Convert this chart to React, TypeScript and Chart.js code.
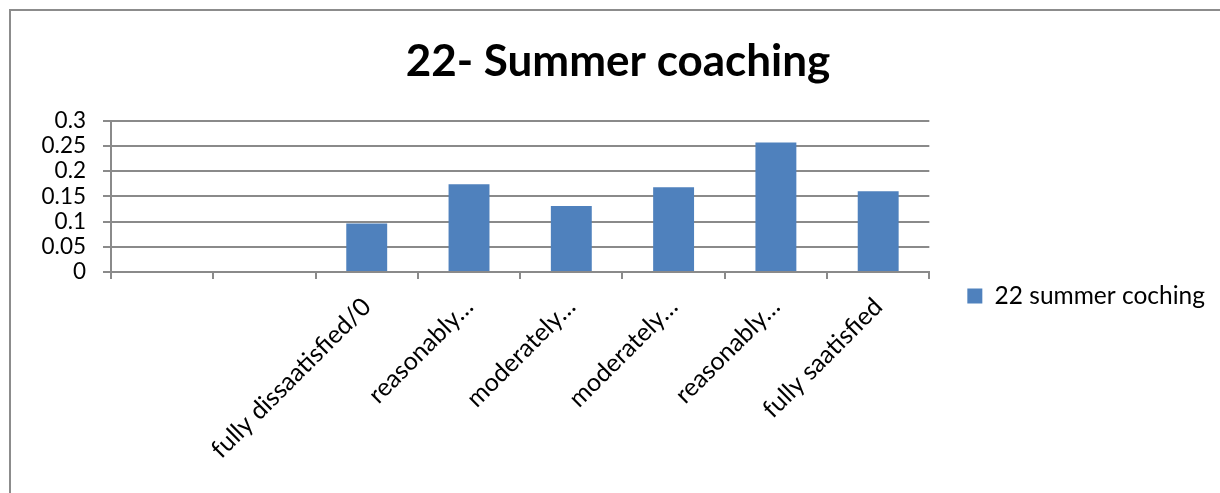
import React, { useEffect, useRef } from "react";
import { Chart, registerables } from "chart.js";

Chart.register(...registerables);

const categories: string[] = [
  "",
  "",
  "fully dissaatisfied/0",
  "reasonably…",
  "moderately…",
  "moderately…",
  "reasonably…",
  "fully saatisfied",
];
const seriesName = "22 summer coching";
const seriesValues: (number | null)[] = [null, null, 0.096, 0.174, 0.131, 0.168, 0.257, 0.16];
const yTicks: number[] = [0, 0.05, 0.1, 0.15, 0.2, 0.25, 0.3];
const titleText = "22- Summer coaching";

const FONT = "Lato, 'Open Sans', sans-serif";
const GRID = "#8a8a8a";
const BAR = "#4f81bd";

export default function App() {
  const ref = useRef<HTMLCanvasElement | null>(null);

  useEffect(() => {
    if (!ref.current) return;
    const chart = new Chart(ref.current, {
      type: "bar",
      data: {
        labels: categories,
        datasets: [
          {
            label: seriesName,
            data: seriesValues,
            backgroundColor: BAR,
            borderWidth: 0,
            barPercentage: 0.4,
            categoryPercentage: 1,
          },
        ],
      },
      options: {
        responsive: false,
        animation: false,
        devicePixelRatio: 1,
        layout: { padding: { left: 21, right: 5, top: 0, bottom: 0 } },
        plugins: {
          tooltip: { enabled: false },
          title: {
            display: true,
            text: titleText,
            color: "#000",
            font: { family: FONT, size: 44, weight: "bold" },
            padding: { top: 35, bottom: 33 },
          },
          legend: {
            display: true,
            position: "right",
            title: {
              display: true,
              text: "",
              font: { family: FONT, size: 10 },
              padding: { top: 87, bottom: 0 },
            },
            labels: {
              boxWidth: 15,
              boxHeight: 15,
              padding: 38,
              color: "#000",
              font: { family: FONT, size: 24.5 },
            },
          },
        },
        scales: {
          x: {
            afterFit: (scale: any) => {
              scale.height = 221;
            },
            grid: {
              display: true,
              drawOnChartArea: false,
              drawTicks: true,
              tickLength: 7,
              color: GRID,
              lineWidth: 2,
              offset: true,
            },
            border: { display: true, color: GRID, width: 2 },
            ticks: {
              autoSkip: false,
              maxRotation: 45,
              minRotation: 45,
              color: "#000",
              padding: 13,
              font: { family: FONT, size: 25 },
            },
          },
          y: {
            min: 0,
            max: 0.3,
            afterFit: (scale: any) => {
              scale.width = 90;
            },
            afterBuildTicks: (axis: any) => {
              axis.ticks = yTicks.map((v) => ({ value: v }));
            },
            grid: {
              color: GRID,
              lineWidth: 2,
              tickLength: 8,
              drawTicks: true,
            },
            border: { display: true, color: GRID, width: 2 },
            ticks: {
              autoSkip: false,
              color: "#000",
              padding: 17,
              font: { family: FONT, size: 22.5 },
              callback: (v: any) => String(Number(Number(v).toFixed(2))),
            },
          },
        },
      },
    });
    return () => chart.destroy();
  }, []);

  return (
    <div
      style={{
        position: "fixed",
        left: 0,
        top: 0,
        width: 1220,
        height: 493,
        overflow: "hidden",
        background: "#fff",
      }}
    >
      <div
        style={{
          position: "absolute",
          left: 9,
          top: 9,
          width: 1300,
          height: 600,
          border: "2px solid #8c8c8c",
          boxSizing: "border-box",
        }}
      />
      <canvas
        ref={ref}
        width={1220}
        height={493}
        style={{ position: "absolute", left: 0, top: 0, width: 1220, height: 493 }}
      />
    </div>
  );
}
